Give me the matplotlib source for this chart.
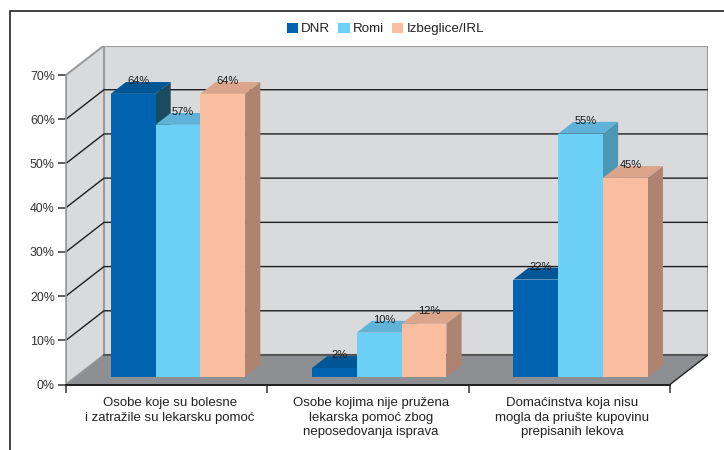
import matplotlib
matplotlib.use("Agg")
import matplotlib.pyplot as plt
from matplotlib.lines import Line2D
from matplotlib.patches import Polygon

categories = ["Osobe koje su bolesne\ni zatražile su lekarsku pomoć",
              "Osobe kojima nije pružena\nlekarska pomoć zbog\nneposedovanja isprava",
              "Domaćinstva koja nisu\nmogla da priušte kupovinu\nprepisanih lekova"]
series_names = ["DNR", "Romi", "Izbeglice/IRL"]
dnr = [64, 2, 22]
romi = [57, 10, 55]
izbeglice = [64, 12, 45]
series = [dnr, romi, izbeglice]
yticks = [0, 10, 20, 30, 40, 50, 60, 70]

front = ["#0063AF", "#6BCFF6", "#F9BDA0"]
top = ["#005595", "#5FB3D9", "#DBA58B"]
side = ["#1C4A5E", "#4E96B5", "#AE8470"]

plt.rcParams["font.family"] = ["Liberation Sans", "DejaVu Sans"]
W, H = 724, 450
fig = plt.figure(figsize=(W / 100, H / 100), dpi=100)

x0, x1, y0, y70 = 66.0, 670.0, 384.5, 75.0
ddx_px, ddy_px = 38.0, 29.5
ux = (x1 - x0) / 3
uy = (y0 - y70) / 70
DX, DY = ddx_px / ux, ddy_px / uy
ax = fig.add_axes([x0 / W, 1 - y0 / H, (x1 + ddx_px - x0) / W, (y0 - y70 + ddy_px) / H])
ax.set_xlim(0, 3 + DX)
ax.set_ylim(0, 70 + DY)
ax.patch.set_alpha(0)

# frame: top and left rules only, running off the picture
fig.add_artist(Line2D([9.5 / W, 9.5 / W, 1], [0, 1 - 11 / H, 1 - 11 / H], transform=fig.transFigure,
                      color="#222222", lw=1.2, solid_joinstyle="miter"))

wall = "#D9DADC"
edge = "#9C9C9E"
ax.add_patch(Polygon([(DX, DY), (3 + DX, DY), (3 + DX, 70 + DY), (DX, 70 + DY)], fc=wall, ec=edge, lw=1.5, zorder=1))
ax.add_patch(Polygon([(0, 0), (DX, DY), (DX, 70 + DY), (0, 70)], fc=wall, ec=edge, lw=1.5, zorder=1))
ax.add_patch(Polygon([(0, 0), (3, 0), (3 + DX, DY), (DX, DY)], fc="#8E8F92", ec="none", zorder=2))
for v in yticks[1:-1]:
    ax.plot([0, DX, 3 + DX], [v, v + DY, v + DY], color="#1E1E1E", lw=1.0, zorder=2, solid_joinstyle="miter")
ax.plot([DX, 3 + DX], [DY, DY], color="#555555", lw=1.5, zorder=3)
ax.plot([3, 3 + DX], [0, DY], color="#222222", lw=1.0, zorder=3)

d0, d1 = 0.26, 0.66
margin, bw = 0.173, 0.2225
for c in range(3):
    for s in range(3):
        v = series[s][c]
        xl = c + margin + s * bw + d0 * DX
        yb = d0 * DY
        dx, dy = (d1 - d0) * DX, (d1 - d0) * DY
        z = 4 + c * 3 + s
        ax.bar(xl, v, width=bw, bottom=yb, align="edge", color=front[s], lw=0, zorder=z + 0.2,
               label=series_names[s] if c == 0 else None)
        ax.add_patch(Polygon([(xl, yb + v), (xl + bw, yb + v), (xl + bw + dx, yb + v + dy), (xl + dx, yb + v + dy)],
                             fc=top[s], ec="none", zorder=z))
        ax.add_patch(Polygon([(xl + bw, yb), (xl + bw + dx, yb + dy), (xl + bw + dx, yb + v + dy), (xl + bw, yb + v)],
                             fc=side[s], ec="none", zorder=z))
        ax.text(xl + bw / 2 + 0.5 * dx - 0.012, yb + v + dy * 0.5 + 1.5, f"{v}%", ha="center", va="center",
                fontsize=8.0, color="#1A1A1A", zorder=30)

for name in ["top", "right"]:
    ax.spines[name].set_visible(False)
ax.spines["left"].set_bounds(0, 70)
ax.spines["left"].set_color(edge)
ax.spines["left"].set_linewidth(1.2)
ax.spines["bottom"].set_bounds(0, 3)
ax.spines["bottom"].set_color("#1E1E1E")
ax.spines["bottom"].set_linewidth(1.4)
ax.spines["bottom"].set_zorder(40)
ax.set_yticks(yticks)
ax.set_yticklabels([f"{v}%" for v in yticks], fontsize=8.9, color="#333333")
ax.tick_params(axis="y", length=5.5, width=1.1, color="#333333", pad=2.5)
ax.set_xticks([0, 1, 2, 3])
ax.set_xticklabels([])
ax.tick_params(axis="x", length=6, width=1.1, color="#333333")
ax.set_xticks([0.515, 1.515, 2.515], minor=True)
ax.set_xticklabels(categories, minor=True, fontsize=9.5, color="#222222", linespacing=1.3, va="top")
ax.tick_params(axis="x", which="minor", length=0, pad=9)

h, l = ax.get_legend_handles_labels()
fig.legend(h, l, loc="center", bbox_to_anchor=(385.5 / W, 1 - 29 / H), ncol=3, frameon=False, fontsize=9.6,
           handlelength=0.85, handleheight=0.85, handletextpad=0.25, columnspacing=0.6, labelcolor="#222222",
           borderpad=0, borderaxespad=0)
fig.savefig("out.png", dpi=100)
